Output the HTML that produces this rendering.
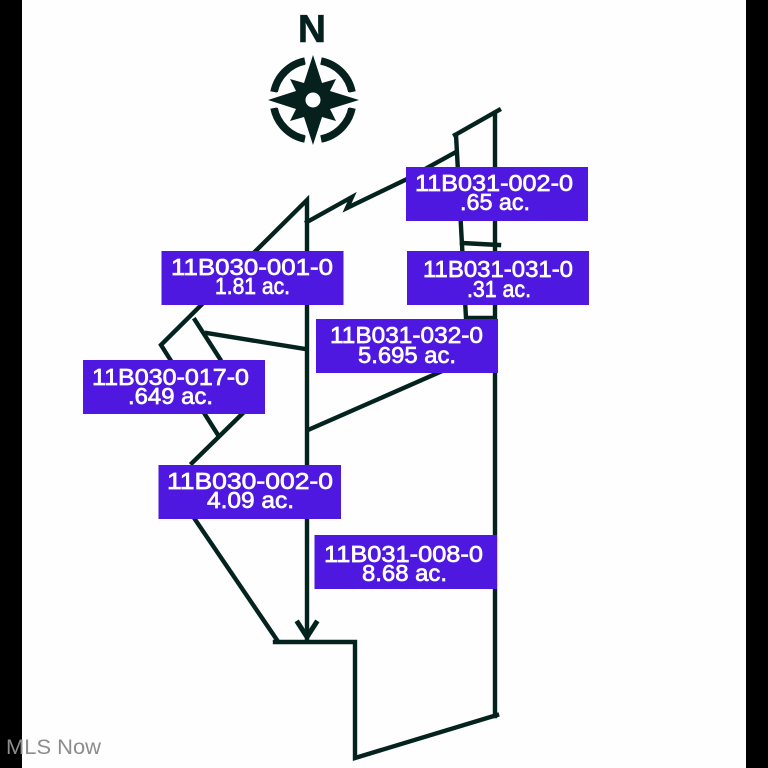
<!DOCTYPE html>
<html><head><meta charset="utf-8"><style>
html,body{margin:0;padding:0;background:#000;width:768px;height:768px;overflow:hidden}
svg{display:block}
.t{font-family:"Liberation Sans",sans-serif;font-weight:400;fill:#fff;stroke:#fff;stroke-width:.7;font-size:23.5px}
</style></head><body>
<svg width="768" height="768" viewBox="0 0 768 768" xmlns="http://www.w3.org/2000/svg">
<rect width="768" height="768" fill="#000"/>
<rect x="22" y="0" width="724" height="768" fill="#fdfefd"/>
<g fill="none" stroke="#04231f" stroke-width="4.400" stroke-linecap="square" stroke-linejoin="miter">
<path d="M307 640V200L161 345L218 435"/>
<path d="M243 413L192 463"/>
<path d="M195 320L220 359"/>
<path d="M207 333L305 349"/>
<path d="M308 430L440 372"/>
<path d="M307 222L352 197L347 208L405 180L456 152"/>
<path d="M455 135L499 110"/>
<path d="M456 135L466 318" />
<path d="M495 113V716"/>
<path d="M462 243L499 245"/>
<path d="M467 318L493 318"/>
<path d="M192 515L277 640"/>
<path d="M275 642H355V758L497 715"/>
<path d="M298 623L307 637L316 623" stroke-width="5"/>
</g>
<g fill="#4f18e0">
<rect x="161.500" y="251" width="182" height="54"/>
<rect x="83" y="360" width="182" height="54"/>
<rect x="158.500" y="465" width="182.500" height="54"/>
<rect x="406" y="167" width="182" height="54"/>
<rect x="407" y="251" width="182" height="54"/>
<rect x="316" y="319" width="182" height="54"/>
<rect x="314.500" y="535" width="182.500" height="54"/>
</g>
<g>
<text class="t" x="171" y="275" textLength="162" lengthAdjust="spacingAndGlyphs">11B030-001-0</text>
<text class="t" x="215" y="294" textLength="75" lengthAdjust="spacingAndGlyphs">1.81 ac.</text>
<text class="t" x="92" y="385" textLength="157" lengthAdjust="spacingAndGlyphs">11B030-017-0</text>
<text class="t" x="128" y="404" textLength="85" lengthAdjust="spacingAndGlyphs">.649 ac.</text>
<text class="t" x="167" y="489" textLength="166" lengthAdjust="spacingAndGlyphs">11B030-002-0</text>
<text class="t" x="207" y="508" textLength="87" lengthAdjust="spacingAndGlyphs">4.09 ac.</text>
<text class="t" x="415" y="191" textLength="158" lengthAdjust="spacingAndGlyphs">11B031-002-0</text>
<text class="t" x="460" y="210" textLength="70" lengthAdjust="spacingAndGlyphs">.65 ac.</text>
<text class="t" x="423" y="277" textLength="150" lengthAdjust="spacingAndGlyphs">11B031-031-0</text>
<text class="t" x="467" y="297" textLength="64" lengthAdjust="spacingAndGlyphs">.31 ac.</text>
<text class="t" x="330" y="343" textLength="153" lengthAdjust="spacingAndGlyphs">11B031-032-0</text>
<text class="t" x="358" y="363" textLength="98" lengthAdjust="spacingAndGlyphs">5.695 ac.</text>
<text class="t" x="324" y="562" textLength="159" lengthAdjust="spacingAndGlyphs">11B031-008-0</text>
<text class="t" x="362" y="581" textLength="85" lengthAdjust="spacingAndGlyphs">8.68 ac.</text>
</g>
<text x="312" y="42" text-anchor="middle" font-family="'Liberation Sans',sans-serif" font-weight="700" font-size="39" fill="#06201d" stroke="#06201d" stroke-width=".6">N</text>
<g fill="none" stroke="#06201d" stroke-width="7.500">
<path d="M274 92A39.500 39.500 0 0 1 305 61"/>
<path d="M321 61A39.500 39.500 0 0 1 352 92"/>
<path d="M352 108A39.500 39.500 0 0 1 321 139"/>
<path d="M305 139A39.500 39.500 0 0 1 274 108"/>
</g>
<path fill="#fdfefd" d="M312 48L324 88L368 100L324 112L312 152L302 112L258 100L302 88Z" stroke="#fdfefd" stroke-width="5"/>
<path fill="#06201d" d="M313 55L322 83L336 79L330 91L359 100L330 109L336 121L322 117L313 145L304 117L290 121L296 109L268 100L296 91L290 79L304 83Z"/>
<circle cx="313" cy="100" r="7.500" fill="#fdfefd"/>
<text x="6" y="754" font-family="'Liberation Sans',sans-serif" font-size="21.500" fill="#8d8d8d" textLength="95" lengthAdjust="spacingAndGlyphs">MLS Now</text>
</svg>
</body></html>
